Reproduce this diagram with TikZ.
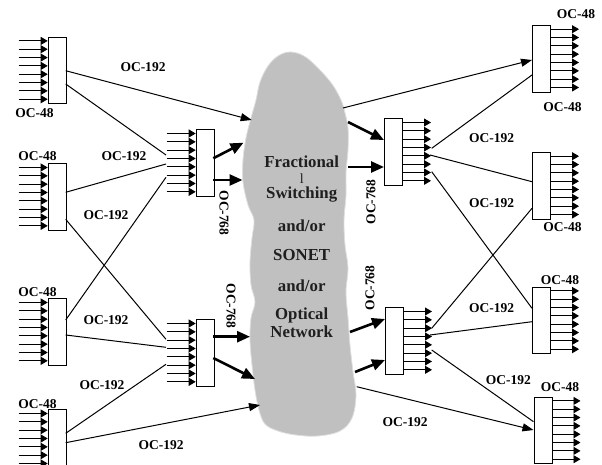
\documentclass[tikz,border=0pt]{standalone}
\usepackage{fontspec}
\setmainfont{Liberation Serif}
\usetikzlibrary{arrows.meta}
\definecolor{cloudgray}{RGB}{192,192,192}
\tikzset{
  muxbox/.style={draw, fill=white, line width=1pt, minimum width=18pt, minimum height=66.7pt, inner sep=0pt, anchor=north west},
  tiparr/.style={line width=0.9pt, -{Triangle[length=7pt,width=8pt]}},
  conn/.style={line width=1pt},
  connarr/.style={line width=1pt, -{Triangle[length=11pt,width=8pt]}},
  fatarr/.style={line width=2.6pt, -{Triangle[length=13pt,width=11pt]}},
  lbl/.style={font=\fontsize{13.5}{14}\selectfont\bfseries, inner sep=0pt},
  cloudtxt/.style={font=\fontsize{16.8}{17}\selectfont\bfseries, inner sep=0pt, text=black!88},
  muxin/.pic={
    \foreach \i in {0,...,7} \draw[tiparr] (-29,4.2+8.33*\i) -- (0,4.2+8.33*\i);
    \node[muxbox] (-b) at (0,0) {};
  },
  muxout/.pic={
    \foreach \i in {0,...,7} \draw[tiparr] (18,4.2+8.33*\i) -- (47,4.2+8.33*\i);
    \node[muxbox] (-b) at (0,0) {};
  }
}
\begin{document}
\begin{tikzpicture}[x=1pt,y=-1pt]
\useasboundingbox (0,0) rectangle (602,465);
\clip (0,0) rectangle (602,465);

% cloud
\node[inner sep=0pt] (cloud) at (300,245) {};
\draw[fill=cloudgray, draw=gray!25, line width=0.8pt] plot[smooth cycle, tension=0.6] coordinates {
(290,52) (304,56) (318,68) (332,84) (341,100) (345,113) (348,128) (348,150)
(346,172) (346,195) (344,220) (345,245) (348,268) (346,292) (348,318) (350,345)
(353,372) (356,395) (352,418) (340,431) (318,436) (296,435) (278,431) (265,424)
(259,410) (255,390) (252,365) (250,340) (251,318) (255,302) (251,285) (250,262)
(252,238) (254,220) (248,205) (243,182) (243,160) (246,138) (251,118) (256,100)
(260,82) (268,66) (278,56)};
\node[cloudtxt] (t1) at (301.7,162) {Fractional};
\node[inner sep=0pt, font=\fontsize{14}{14}\selectfont, text=black!88] (t2) at (301.7,179) {l};
\node[cloudtxt] (t3) at (301.7,195) {Switching};
\node[cloudtxt] (t4) at (301.7,226) {and/or};
\node[cloudtxt] (t5) at (301.7,255) {SONET};
\node[cloudtxt] (t6) at (301.7,286) {and/or};
\node[cloudtxt] (t7) at (301.7,315) {Optical};
\node[cloudtxt] (t8) at (301.7,331.5) {Network};

% multiplexers
\pic (L1) at (47.7,36.7) {muxin};
\pic (L2) at (47.7,163.3) {muxin};
\pic (L3) at (47.7,298.3) {muxin};
\pic (L4) at (47.7,409.3) {muxin};
\pic (M1) at (195.7,129.3) {muxin};
\pic (M2) at (195.7,319.3) {muxin};
\pic (R1) at (384,118.3) {muxout};
\pic (R2) at (385,307.3) {muxout};
\pic (F1) at (532,25) {muxout};
\pic (F2) at (532,152) {muxout};
\pic (F3) at (532,286.7) {muxout};
\pic (F4) at (533.5,396.7) {muxout};

% connector end points
\coordinate (L1a) at (65.7,70.7);
\coordinate (L1b) at (65.7,84);
\coordinate (L2a) at (65.7,192.3);
\coordinate (L2b) at (65.7,219.3);
\coordinate (L3a) at (65.7,320);
\coordinate (L3b) at (65.7,335);
\coordinate (L4a) at (65.7,433.3);
\coordinate (L4b) at (65.7,442.7);
\coordinate (M1a) at (166,155);
\coordinate (M1b) at (166,164);
\coordinate (M1c) at (166,177.3);
\coordinate (M2a) at (166,339.3);
\coordinate (M2b) at (166,347.3);
\coordinate (M2c) at (166,364.3);
\coordinate (CLa) at (251.7,120);
\coordinate (CLb) at (260,405);
\coordinate (CRa) at (343,108);
\coordinate (CRb) at (356.7,386.7);
\coordinate (R1a) at (431.7,148.3);
\coordinate (R1b) at (430,155);
\coordinate (R1c) at (431.7,171.7);
\coordinate (R2a) at (431.7,328.3);
\coordinate (R2b) at (430,335);
\coordinate (R2c) at (431.7,350);
\coordinate (F1a) at (532,60);
\coordinate (F1b) at (532,75);
\coordinate (F2a) at (532,181.7);
\coordinate (F2b) at (532,208.3);
\coordinate (F3a) at (532,308.3);
\coordinate (F3b) at (532,321.7);
\coordinate (F4a) at (533.5,421.7);
\coordinate (F4b) at (533.5,430);

% left connectors
\draw[connarr] (L1a) -- (CLa);
\draw[conn] (L1b) -- (M1a);
\draw[conn] (L2a) -- (M1b);
\draw[conn] (L2b) -- (M2a);
\draw[conn] (L3a) -- (M1c);
\draw[conn] (L3b) -- (M2b);
\draw[conn] (L4a) -- (M2c);
\draw[connarr] (L4b) -- (CLb);

% right connectors
\draw[connarr] (CRa) -- (F1a);
\draw[conn] (R1a) -- (F1b);
\draw[conn] (R1b) -- (F2a);
\draw[conn] (R1c) -- (F3a);
\draw[conn] (R2a) -- (F2b);
\draw[conn] (R2b) -- (F3b);
\draw[conn] (R2c) -- (F4a);
\draw[connarr] (CRb) -- (F4b);

% thick arrows
\coordinate (M1o1) at (213.3,158.3);
\coordinate (M1o2) at (213.3,180);
\coordinate (M2o1) at (213.3,336.7);
\coordinate (M2o2) at (213.3,358);
\coordinate (CLc) at (243.5,142.7);
\coordinate (CLd) at (242.5,180);
\coordinate (CLe) at (250,336.7);
\coordinate (CLf) at (255,379);
\coordinate (CRc) at (348,122);
\coordinate (CRd) at (348,167);
\coordinate (CRe) at (350,332);
\coordinate (CRf) at (355,372);
\coordinate (R1i1) at (384,140);
\coordinate (R1i2) at (384,167);
\coordinate (R2i1) at (385,319);
\coordinate (R2i2) at (385,360);
\draw[fatarr] (M1o1) -- (CLc);
\draw[fatarr] (M1o2) -- (CLd);
\draw[fatarr] (M2o1) -- (CLe);
\draw[fatarr] (M2o2) -- (CLf);
\draw[fatarr] (CRc) -- (R1i1);
\draw[fatarr] (CRd) -- (R1i2);
\draw[fatarr] (CRe) -- (R2i1);
\draw[fatarr] (CRf) -- (R2i2);

% labels
\node[lbl] (o48a) at (34.5,113) {OC-48};
\node[lbl] (o48b) at (37.5,156) {OC-48};
\node[lbl] (o48c) at (37.5,292) {OC-48};
\node[lbl] (o48d) at (37.5,404) {OC-48};
\node[lbl] (o192a) at (143,67) {OC-192};
\node[lbl] (o192b) at (124,155.7) {OC-192};
\node[lbl] (o192c) at (106,215) {OC-192};
\node[lbl] (o192d) at (106,320) {OC-192};
\node[lbl] (o192e) at (102,385) {OC-192};
\node[lbl] (o192f) at (161,445) {OC-192};
\node[lbl, rotate=-90] (o768a) at (224,213) {OC-768};
\node[lbl, rotate=-90] (o768b) at (231,306) {OC-768};
\node[lbl, rotate=90] (o768c) at (371,202) {OC-768};
\node[lbl, rotate=90] (o768d) at (370,288) {OC-768};
\node[lbl] (o192g) at (491.7,138.3) {OC-192};
\node[lbl] (o192h) at (491.7,203.3) {OC-192};
\node[lbl] (o192i) at (491.7,307.7) {OC-192};
\node[lbl] (o192j) at (508.3,380) {OC-192};
\node[lbl] (o192k) at (405,422.5) {OC-192};
\node[lbl] (o48e) at (576,14) {OC-48};
\node[lbl] (o48f) at (562.5,107.5) {OC-48};
\node[lbl] (o48g) at (562.5,226.7) {OC-48};
\node[lbl] (o48h) at (560,280) {OC-48};
\node[lbl] (o48i) at (560,387.3) {OC-48};
\end{tikzpicture}
\end{document}
